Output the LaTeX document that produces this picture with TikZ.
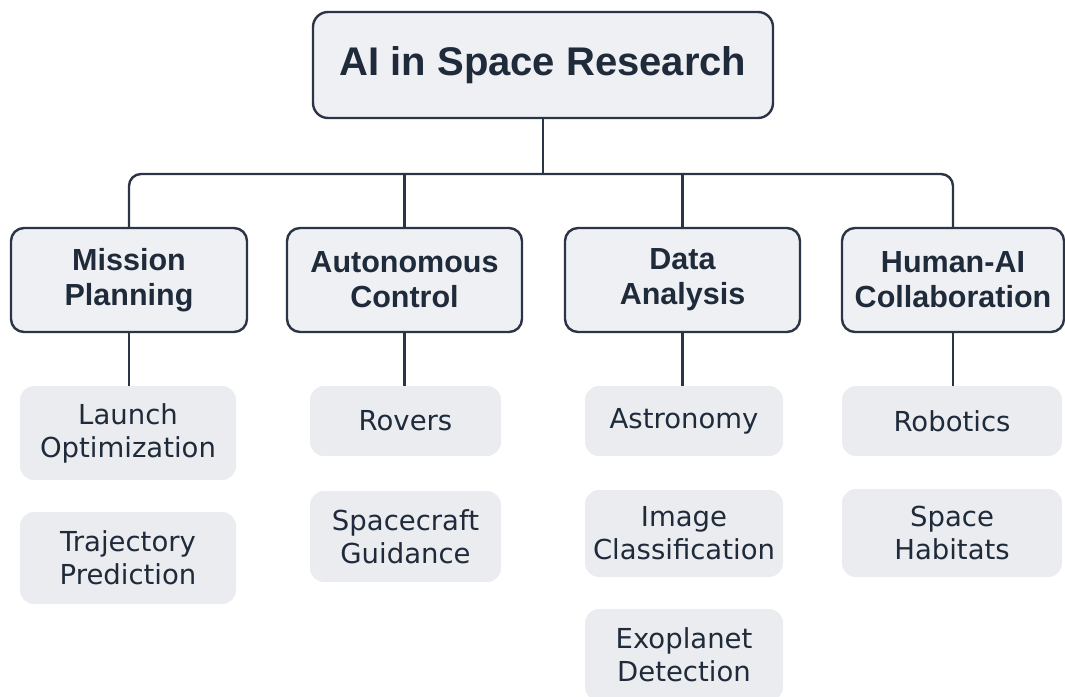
\documentclass[tikz,border=0pt]{standalone}
\usepackage{fontspec}
\setmainfont{DejaVu Sans}
\newfontfamily\rootfont{Liberation Sans}
\newfontfamily\leaffont{DejaVu Sans}
\definecolor{ink}{HTML}{1F2B3B}
\definecolor{edge}{HTML}{2B3545}
\definecolor{boxfill}{HTML}{EEF0F3}
\definecolor{leaffill}{HTML}{EAECEF}
\tikzset{
  rootbox/.style={draw=edge, line width=2.4pt, fill=boxfill, rounded corners=15pt,
    minimum width=460pt, minimum height=106pt, text=ink, align=center,
    font=\rootfont\bfseries\fontsize{40pt}{46pt}\selectfont, inner sep=0pt},
  midbox/.style={draw=edge, line width=2.4pt, fill=boxfill, rounded corners=13pt,
    minimum height=104pt, text=ink, align=center,
    font=\rootfont\bfseries\fontsize{30.5pt}{35pt}\selectfont, inner sep=0pt},
  leafbox/.style={fill=leaffill, rounded corners=14pt, text=ink, align=center,
    font=\leaffont\fontsize{27.5pt}{33pt}\selectfont, inner sep=0pt},
  link/.style={draw=edge, line width=2.4pt}
}
\begin{document}
\begin{tikzpicture}[x=1pt,y=-1pt]
\useasboundingbox (0,0) rectangle (1065,696);
\node[rootbox] (root) at (543,65) {AI in Space Research};
\node[midbox, minimum width=236pt] (mp) at (129,280) {Mission\\Planning};
\node[midbox, minimum width=235pt] (ac) at (404.5,280) {Autonomous\\Control};
\node[midbox, minimum width=235pt] (da) at (682.5,280) {Data\\Analysis};
\node[midbox, minimum width=222pt] (hc) at (953,280) {Human-AI\\Collaboration};
% leaves
\node[leafbox, minimum width=216pt, minimum height=94pt] (lo) at (128,433) {Launch\\Optimization};
\node[leafbox, minimum width=216pt, minimum height=92pt] (tp) at (128,558) {Trajectory\\Prediction};
\node[leafbox, minimum width=191pt, minimum height=70pt] (rv) at (405.5,421) {Rovers};
\node[leafbox, minimum width=191pt, minimum height=91pt] (sg) at (405.5,536.5) {Spacecraft\\Guidance};
\node[leafbox, minimum width=198pt, minimum height=70pt] (as) at (684,421) {Astronomy};
\node[leafbox, minimum width=198pt, minimum height=87pt] (ic) at (684,533.5) {Image\\Classification};
\node[leafbox, minimum width=198pt, minimum height=92pt] (ex) at (684,655) {Exoplanet\\Detection};
\node[leafbox, minimum width=220pt, minimum height=70pt] (rb) at (952,421) {Robotics};
\node[leafbox, minimum width=220pt, minimum height=88pt] (sh) at (952,533) {Space\\Habitats};
% connectors
\coordinate (bus) at (543,174);
\draw[link] (root.south) -- (bus);
\draw[link, rounded corners=12pt] (mp.north) -- (mp.north |- bus) -- (hc.north |- bus) -- (hc.north);
\draw[link] (ac.north |- bus) -- (ac.north);
\draw[link] (da.north |- bus) -- (da.north);
\draw[link] (mp.south) -- (mp.south |- lo.north);
\draw[link] (ac.south) -- (ac.south |- rv.north);
\draw[link] (da.south) -- (da.south |- as.north);
\draw[link] (hc.south) -- (hc.south |- rb.north);
\end{tikzpicture}
\end{document}
